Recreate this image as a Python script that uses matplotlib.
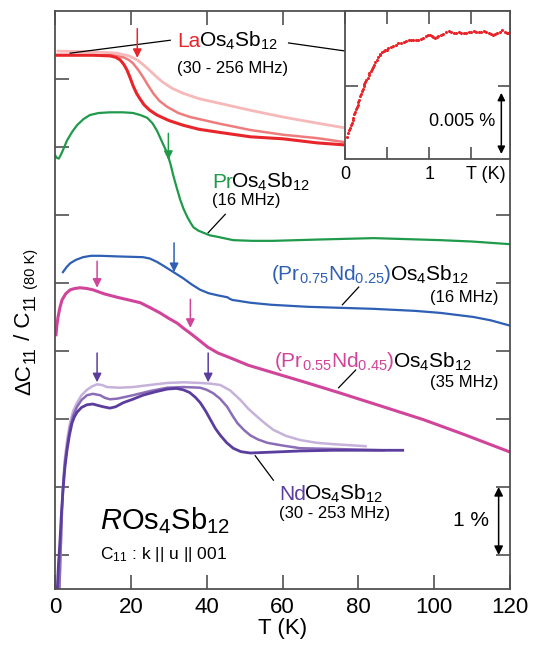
import matplotlib
matplotlib.use("Agg")
import matplotlib.pyplot as plt
from matplotlib.transforms import offset_copy, IdentityTransform

plt.rcParams['font.family'] = ['Liberation Sans', 'DejaVu Sans']
plt.rcParams['mathtext.fontset'] = 'custom'
plt.rcParams['mathtext.rm'] = 'Liberation Sans'
plt.rcParams['mathtext.it'] = 'Liberation Sans:italic'
plt.rcParams['mathtext.bf'] = 'Liberation Sans:bold'
plt.rcParams['mathtext.default'] = 'regular'

# ---------------- data (T in K, dC/C in %, offset per sample) ----------------
la1_T = [0, 10, 14.5, 16, 17.2, 18.2, 19.0, 19.8, 20.6, 21.5, 22.5, 23.5, 25, 26.9, 30, 33.8, 38,
         42.8, 51.5, 60.2, 69.2, 76.6, 100, 120]
la1_v = [7.85, 7.85, 7.84, 7.82, 7.78, 7.71, 7.63, 7.52, 7.40, 7.29, 7.20, 7.12, 7.04, 6.97, 6.89,
         6.82, 6.76, 6.72, 6.65, 6.62, 6.56, 6.53, 6.45, 6.40]
la2_T = [0, 15, 18, 19.5, 20.6, 22, 23.2, 24.5, 25.9, 27.5, 29.6, 32.5, 35.7, 42.8, 51.5, 60.2,
         69.2, 76.6, 100, 120]
la2_v = [7.85, 7.85, 7.82, 7.78, 7.73, 7.63, 7.53, 7.41, 7.29, 7.18, 7.09, 7.00, 6.94, 6.85, 6.75,
         6.68, 6.63, 6.57, 6.50, 6.45]
la3_T = [0.8, 10, 16.4, 19.5, 21.7, 23.5, 25.1, 26.8, 28.5, 31, 33.8, 38, 42.8, 51.5, 60.2, 69.2,
         76.6, 100, 120]
la3_v = [7.91, 7.90, 7.88, 7.84, 7.78, 7.70, 7.62, 7.53, 7.45, 7.36, 7.29, 7.21, 7.15, 7.04, 6.94,
         6.85, 6.78, 6.65, 6.55]

pr_T = [0, 0.5, 1.0, 1.5, 2.3, 3.2, 4.5, 5.8, 7.5, 9.2, 11.5, 14.5, 18, 20.6, 22.5, 24.3, 25.7,
        26.9, 28.2, 29.6, 30.5, 31.2, 32.1, 33.0, 33.9, 34.9, 35.7, 36.5, 37.8, 39.1, 40.9, 42.8,
        47.0, 52, 57.6, 70, 84, 101.7, 110, 120.2]
pr_v = [6.38, 6.34, 6.33, 6.38, 6.48, 6.60, 6.72, 6.82, 6.91, 6.97, 7.00, 7.01, 7.01, 7.00, 6.97,
        6.93, 6.85, 6.74, 6.58, 6.41, 6.24, 6.08, 5.90, 5.73, 5.59, 5.47, 5.39, 5.32, 5.27, 5.24,
        5.20, 5.18, 5.13, 5.12, 5.12, 5.14, 5.16, 5.13, 5.11, 5.07]

pn25_T = [2.1, 3, 4.0, 5.5, 7.4, 9.5, 11.9, 17, 23.2, 25, 26.9, 28.7, 30.4, 33.8, 36, 38.3, 40.5,
          42.8, 45.5, 46, 46.8, 48.1, 51.5, 57, 66.6, 84.0, 95, 101.7, 110.4, 115, 120.2]
pn25_v = [4.66, 4.73, 4.79, 4.84, 4.88, 4.90, 4.90, 4.89, 4.88, 4.86, 4.81, 4.75, 4.69, 4.57, 4.48,
          4.40, 4.35, 4.32, 4.29, 4.27, 4.25, 4.24, 4.21, 4.18, 4.15, 4.12, 4.09, 4.06, 4.00, 3.95, 3.87]

pn45_T = [0.26, 0.5, 0.8, 1.3, 1.85, 2.8, 4.0, 5.3, 6.6, 8.3, 10.0, 13, 16.4, 19.5, 22.5, 25, 27.7,
          30, 32.2, 34, 35.7, 38, 40.2, 43, 46.2, 51, 57.6, 66, 75.3, 86, 97.2, 108, 120.2]
pn45_v = [3.74, 3.88, 4.00, 4.14, 4.25, 4.34, 4.40, 4.42, 4.43, 4.42, 4.40, 4.34, 4.29, 4.25, 4.21,
          4.14, 4.06, 3.98, 3.91, 3.83, 3.76, 3.66, 3.56, 3.47, 3.40, 3.29, 3.18, 3.04, 2.88, 2.69,
          2.49, 2.27, 2.01]

nd1_T = [0.53, 0.9, 1.32, 1.7, 2.11, 2.6, 3.17, 3.8, 4.49, 5.1, 5.81, 7, 8.45, 10.0, 11.3, 12.7,
         14.5, 16, 18.0, 20.5, 23.2, 26.5, 29.6, 32, 33.8, 35.5, 37, 38.3, 39.7, 41.0, 42.3, 43.6,
         45.3, 47.0, 49, 51.5, 56.0, 64.7, 73.4, 91.7]
nd1_v = [-0.09, 0.35, 0.72, 1.12, 1.46, 1.78, 2.04, 2.26, 2.44, 2.53, 2.60, 2.67, 2.71, 2.72, 2.70,
         2.68, 2.66, 2.68, 2.74, 2.79, 2.85, 2.90, 2.94, 2.95, 2.93, 2.89, 2.82, 2.74, 2.62, 2.49,
         2.36, 2.26, 2.15, 2.07, 2.02, 2.00, 2.01, 2.03, 2.04, 2.04]
nd2_T = [1.06, 1.45, 1.85, 2.2, 2.64, 3.3, 3.96, 4.8, 5.81, 7, 8.45, 10, 11.9, 13.2, 14.5, 16.5,
         20.6, 25, 29.6, 34, 38.3, 40, 41.7, 43.5, 45.4, 46.8, 48.1, 49.8, 51.5, 53.5, 56.0, 60,
         64.7, 73.4, 86.7]
nd2_v = [-0.16, 0.50, 1.16, 1.55, 1.87, 2.15, 2.37, 2.55, 2.68, 2.78, 2.85, 2.87, 2.85, 2.81, 2.79,
         2.80, 2.85, 2.91, 2.96, 2.97, 2.96, 2.93, 2.88, 2.80, 2.68, 2.55, 2.44, 2.34, 2.26, 2.20,
         2.15, 2.11, 2.07, 2.06, 2.04]
nd3_T = [1.06, 1.32, 1.6, 1.85, 2.2, 2.64, 3.3, 3.96, 4.8, 5.81, 7, 8.45, 9.8, 11.1, 12.4, 13.7,
         17, 20.6, 25, 29.6, 34, 38.3, 41, 43.6, 46.2, 48.9, 51, 53.4, 55.5, 57.6, 61, 64.7, 69,
         73.4, 81.9]
nd3_v = [-0.16, 0.24, 0.75, 1.21, 1.62, 1.94, 2.23, 2.44, 2.62, 2.74, 2.85, 2.93, 2.98, 3.01, 3.00,
         2.97, 2.96, 2.97, 3.00, 3.03, 3.04, 3.03, 3.02, 3.00, 2.92, 2.78, 2.65, 2.53, 2.43, 2.34,
         2.25, 2.19, 2.15, 2.13, 2.10]

# inset: LaOs4Sb12 below 2 K (units of 0.001 %)
ins_T = [0.028, 0.04, 0.05, 0.06, 0.07, 0.08, 0.09, 0.10, 0.11, 0.12, 0.13, 0.14, 0.15, 0.16, 0.17,
         0.18, 0.19, 0.20, 0.21, 0.22, 0.23, 0.24, 0.255, 0.27, 0.28, 0.29, 0.305, 0.32, 0.33,
         0.345, 0.36, 0.38, 0.39, 0.41, 0.42, 0.44, 0.46, 0.48, 0.50, 0.515, 0.545, 0.575, 0.605,
         0.635, 0.665, 0.695, 0.725, 0.755, 0.78, 0.81, 0.84, 0.87, 0.90, 0.93, 0.96, 0.99, 1.01,
         1.03, 1.05, 1.07, 1.09, 1.11, 1.14, 1.17, 1.20, 1.23, 1.26, 1.29, 1.32, 1.35, 1.38, 1.41,
         1.44, 1.47, 1.50, 1.53, 1.56, 1.59, 1.62, 1.65, 1.68, 1.71, 1.735, 1.76, 1.785, 1.81,
         1.84, 1.87, 1.90, 1.92, 1.94, 1.96]
ins_v = [1.78, 2.10, 2.35, 2.51, 2.75, 2.92, 3.15, 3.33, 3.65, 3.88, 4.05, 4.29, 4.45, 4.70, 4.85,
         5.11, 5.30, 5.52, 5.70, 5.93, 6.10, 6.26, 6.45, 6.61, 6.85, 7.02, 7.20, 7.35, 7.55,
         7.70, 7.90, 8.11, 8.30, 8.52, 8.60, 8.74, 8.80, 8.88, 8.95, 9.07, 9.15, 9.26, 9.35,
         9.48, 9.52, 9.59, 9.64, 9.70, 9.73, 9.75, 9.72, 9.70, 9.80, 9.89, 10.02, 10.16, 10.12,
         10.08, 9.95, 9.89, 9.95, 10.03, 10.15, 10.25, 10.35, 10.44, 10.38, 10.30, 10.33, 10.36, 10.33, 10.30,
         10.34, 10.38, 10.41, 10.44, 10.40, 10.36, 10.40, 10.44, 10.37, 10.30, 10.22, 10.16, 10.23, 10.30,
         10.42, 10.52, 10.40, 10.30, 10.33, 10.36]

# arrows marking transitions: (T, top, bottom, colour)
arrows = [
    (21.7, 8.24, 7.81, '#e8252a'),
    (29.9, 6.70, 6.31, '#1f9a4a'),
    (31.4, 5.09, 4.66, '#2e5fb5'),
    (11.1, 4.82, 4.43, '#d0449a'),
    (35.7, 4.26, 3.84, '#d0449a'),
    (11.1, 3.47, 3.04, '#5b3d9e'),
    (40.4, 3.47, 3.04, '#5b3d9e'),
]

# ---------------- figure ----------------
W, H = 534, 647
fig = plt.figure(figsize=(W / 100, H / 100), dpi=100)
ax = fig.add_axes([55 / W, 1 - 589 / H, (510 - 55) / W, (589 - 11) / H])
ax.set_xlim(0, 120)
ax.set_ylim(0, 8.5)
renderer = fig.canvas.get_renderer()

spc = '#505050'
for s in ax.spines.values():
    s.set_color(spc)
    s.set_linewidth(1.3)

ax.set_xticks([0, 20, 40, 60, 80, 100, 120])
ax.set_yticks([0.5, 1.5, 2.5, 3.5, 4.5, 5.5, 6.5, 7.5])
ax.tick_params(direction='in', length=10, width=1.2, color=spc, top=True, right=True,
               labelleft=False, labelsize=16, pad=6)
ax.set_xlabel('T (K)', fontsize=16, labelpad=0)

# curves
ax.plot(la3_T, la3_v, color='#f6b8b8', lw=2.0)
ax.plot(la2_T, la2_v, color='#ef7c7c', lw=1.8)
ax.plot(la1_T, la1_v, color='#e8252a', lw=2.2)
ax.plot(pr_T, pr_v, color='#1f9a4a', lw=1.6)
ax.plot(pn25_T, pn25_v, color='#2e5fb5', lw=1.6)
ax.plot(pn45_T, pn45_v, color='#d0449a', lw=2.2)
ax.plot(nd3_T, nd3_v, color='#c6b1da', lw=1.8)
ax.plot(nd2_T, nd2_v, color='#8b6cb7', lw=1.8)
ax.plot(nd1_T, nd1_v, color='#5b3d9e', lw=2.0)

for x, y0, y1, c in arrows:
    ax.annotate('', xy=(x, y1), xytext=(x, y0),
                arrowprops=dict(arrowstyle='-|>', color=c, lw=1.1, mutation_scale=13,
                                shrinkA=0, shrinkB=0))

# pointer lines
for (x0, y0, x1, y1) in [(4.0, 7.88, 30.4, 8.07), (61.6, 8.03, 78.0, 7.90),
                         (40.4, 5.24, 44.9, 5.51), (75.8, 4.18, 80.1, 4.44),
                         (74.8, 2.96, 79.3, 3.22), (52.8, 1.96, 57.6, 1.60)]:
    ax.plot([x0, x1], [y0, y1], color='black', lw=0.9)


def ctext(x, y, parts, size):
    """Multi-coloured text on one baseline (data coords)."""
    dx = 0.0
    for s, c in parts:
        t = ax.text(x, y, s, color=c, fontsize=size, ha='left', va='baseline',
                    transform=offset_copy(ax.transData, fig=fig, x=dx, y=0, units='dots'))
        dx += t.get_window_extent(renderer).width - 2.0


LS = 15
SS = 12
ctext(32.3, 7.97, [('La', '#e8252a'), ('Os$_4$Sb$_{12}$', 'black')], LS)
ax.text(32.3, 7.59, '(30 - 256 MHz)', fontsize=SS, va='baseline')
ctext(41.5, 5.90, [('Pr', '#1f9a4a'), ('Os$_4$Sb$_{12}$', 'black')], LS)
ax.text(41.5, 5.65, '(16 MHz)', fontsize=SS, va='baseline')
ctext(57.0, 4.54, [('(Pr$_{0.75}$Nd$_{0.25}$)', '#2e5fb5'), ('Os$_4$Sb$_{12}$', 'black')], LS)
ax.text(117.0, 4.22, '(16 MHz)', fontsize=SS, va='baseline', ha='right')
ctext(57.8, 3.26, [('(Pr$_{0.55}$Nd$_{0.45}$)', '#d0449a'), ('Os$_4$Sb$_{12}$', 'black')], LS)
ax.text(117.0, 2.97, '(35 MHz)', fontsize=SS, va='baseline', ha='right')
ctext(59.2, 1.31, [('Nd', '#5b3d9e'), ('Os$_4$Sb$_{12}$', 'black')], LS)
ax.text(59.2, 1.04, '(30 - 253 MHz)', fontsize=SS, va='baseline')

ax.text(11.9, 0.88, r'$\mathit{R}$Os$_4$Sb$_{12}$', fontsize=21, va='baseline')
ax.text(11.9, 0.44, 'C$_{11}$ : k || u || 001', fontsize=12.5, va='baseline')

# 1 % scale bar
ax.annotate('', xy=(117.0, 0.5), xytext=(117.0, 1.5),
            arrowprops=dict(arrowstyle='<|-|>', color='black', lw=1.1, mutation_scale=13,
                            shrinkA=0, shrinkB=0))
ax.text(114.4, 1.0, '1 %', fontsize=15, ha='right', va='center')

# y label built from rotated pieces (pixel coordinates from bottom-left)
ylab_parts = [('ΔC', 16, 0), ('11', 11.5, 5), (' / C', 16, 0), ('11', 11.5, 5), (' (80 K)', 10.5, 5)]
ypos = 647 - 395
for s, size, sh in ylab_parts:
    t = fig.text(30 + sh, ypos, s, fontsize=size, rotation=90, rotation_mode='anchor',
                 ha='left', va='baseline', transform=IdentityTransform())
    ypos += t.get_window_extent(renderer).height + 1.0

# ---------------- inset ----------------
axi = fig.add_axes([345 / W, 1 - 159 / H, (510 - 345) / W, (159 - 11) / H])
axi.set_facecolor('white')
axi.set_xlim(0, 1.96)
axi.set_ylim(0, 12.1)
for s in axi.spines.values():
    s.set_color(spc)
    s.set_linewidth(1.3)
axi.set_xticks([0, 0.5, 1, 1.5])
axi.set_xticklabels(['0', '', '1', ''])
axi.set_yticks([6])
axi.tick_params(direction='in', length=9, width=1.2, color=spc, top=True, right=True,
                labelleft=False, labelsize=13, pad=5)
axi.scatter(ins_T, ins_v, s=5, color='#e8252a', linewidths=0)
axi.annotate('', xy=(1.857, 0.41), xytext=(1.857, 5.41),
             arrowprops=dict(arrowstyle='<|-|>', color='black', lw=1.1, mutation_scale=11,
                             shrinkA=0, shrinkB=0))
axi.text(1.79, 3.06, '0.005 %', fontsize=13, ha='right', va='center')
axi.text(1.67, -0.05, 'T (K)', fontsize=13, ha='center', va='top',
         transform=axi.get_xaxis_transform())

fig.savefig('out.png', dpi=100)
